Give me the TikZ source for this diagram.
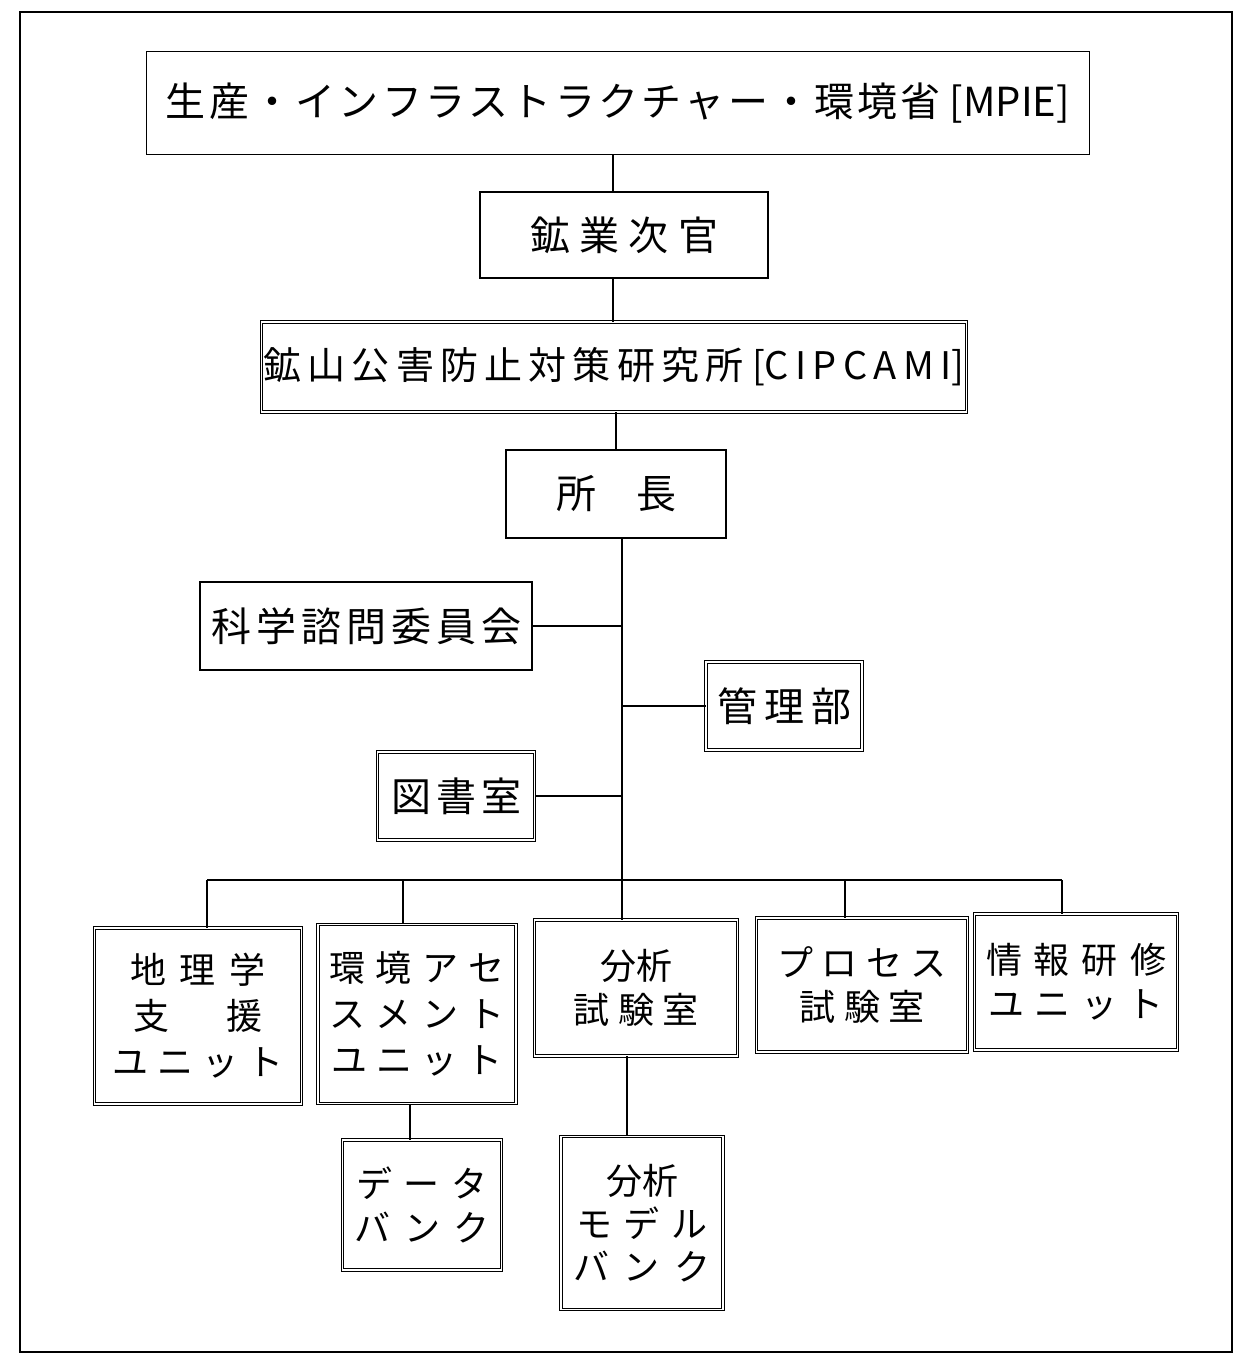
\documentclass[tikz,border=0pt]{standalone}
\usepackage{fontspec}
\setmainfont{Noto Sans CJK JP}
\def\lspX#1{\ifx#1\relax\else\hfill#1\expandafter\lspX\fi}
\def\lspY#1{#1\lspX}
\newcommand\spr[2]{\makebox[#1]{\lspY#2\relax}}
\begin{document}
\begin{tikzpicture}[x=1pt,y=-1pt,
  bx/.style={draw, line width=1.6pt, inner sep=0pt, align=center, font=\fontsize{40}{48}\selectfont},
  dbx/.style={bx, double, line width=0.9pt, double distance=1.6pt},
  sm/.style={font=\fontsize{36}{46}\selectfont},
  ln/.style={line width=1.4pt}]
\useasboundingbox (0,0) rectangle (1247,1361);
\draw[line width=2pt] (20,12) rectangle (1232,1352);

\node[bx, minimum width=943pt, minimum height=103pt] (mpie) at (618,103)
  {\spr{775pt}{生産・インフラストラクチャー・環境省}\ [MPIE]};
\node[bx, minimum width=288pt, minimum height=86pt] (jikan) at (624,235)
  {\spr{188pt}{鉱業次官}};
\node[dbx, minimum width=705pt, minimum height=90pt, font=\fontsize{38}{46}\selectfont] (cip) at (614,367)
  {\spr{480pt}{鉱山公害防止対策研究所}\ [C\,I\,P\,C\,A\,M\,I]};
\node[bx, minimum width=220pt, minimum height=88pt] (shocho) at (616,494)
  {所\hspace{1em}長};
\node[bx, minimum width=332pt, minimum height=88pt] (kagaku) at (366,626)
  {\spr{310pt}{科学諮問委員会}};
\node[dbx, minimum width=156pt, minimum height=88pt] (kanri) at (784,706)
  {\spr{134pt}{管理部}};
\node[dbx, minimum width=157pt, minimum height=88pt] (tosho) at (456,796)
  {\spr{130pt}{図書室}};

\node[dbx, sm, minimum width=207pt, minimum height=176pt] (chiri) at (198,1016)
  {\spr{136pt}{地理学}\\\spr{130pt}{支援}\\\spr{172pt}{ユニット}};
\node[dbx, sm, minimum width=198pt, minimum height=179pt] (kankyo) at (417,1014)
  {\spr{176pt}{環境アセ}\\\spr{176pt}{スメント}\\\spr{172pt}{ユニット}};
\node[dbx, sm, minimum width=203pt, minimum height=136pt, font=\fontsize{36}{44}\selectfont] (bunseki) at (636,988)
  {分析\\\spr{125pt}{試験室}};
\node[dbx, sm, minimum width=211pt, minimum height=134pt, font=\fontsize{36}{44}\selectfont] (process) at (862,985)
  {\spr{170pt}{プロセス}\\\spr{125pt}{試験室}};
\node[dbx, sm, minimum width=203pt, minimum height=136pt, font=\fontsize{36}{44}\selectfont] (joho) at (1076,982)
  {\spr{180pt}{情報研修}\\\spr{175pt}{ユニット}};
\node[dbx, sm, minimum width=159pt, minimum height=130pt, font=\fontsize{36}{44}\selectfont] (data) at (422,1205)
  {\spr{132pt}{データ}\\\spr{135pt}{バンク}};
\node[dbx, sm, minimum width=162pt, minimum height=173pt, font=\fontsize{36}{43}\selectfont] (model) at (642,1223)
  {分析\\\spr{132pt}{モデル}\\\spr{137pt}{バンク}};

% connectors
\draw[ln] ([xshift=-11pt]jikan.north) -- ([xshift=-11pt]jikan.north |- mpie.south);
\draw[ln] ([xshift=-11pt]jikan.south) -- ([xshift=-11pt]jikan.south |- cip.north);
\draw[ln] (shocho.north) -- (shocho.north |- cip.south);
\coordinate (trunk) at (622,880);
\draw[ln] (shocho.south -| trunk) -- (trunk) -- (trunk |- bunseki.north);
\draw[ln] (kagaku.east) -- (kagaku.east -| trunk);
\draw[ln] (kanri.west) -- (kanri.west -| trunk);
\draw[ln] (tosho.east) -- (tosho.east -| trunk);
\coordinate (bl) at (207,880);
\coordinate (b2) at (403,880);
\coordinate (b4) at (845,880);
\coordinate (br) at (1062,880);
\draw[ln] (bl) -- (br);
\draw[ln] (bl) -- (bl |- chiri.north);
\draw[ln] (b2) -- (b2 |- kankyo.north);
\draw[ln] (b4) -- (b4 |- process.north);
\draw[ln] (br) -- (br |- joho.north);
\draw[ln] ([xshift=-7pt]kankyo.south) -- ([xshift=-7pt]kankyo.south |- data.north);
\draw[ln] ([xshift=-9pt]bunseki.south) -- ([xshift=-9pt]bunseki.south |- model.north);
\end{tikzpicture}
\end{document}
